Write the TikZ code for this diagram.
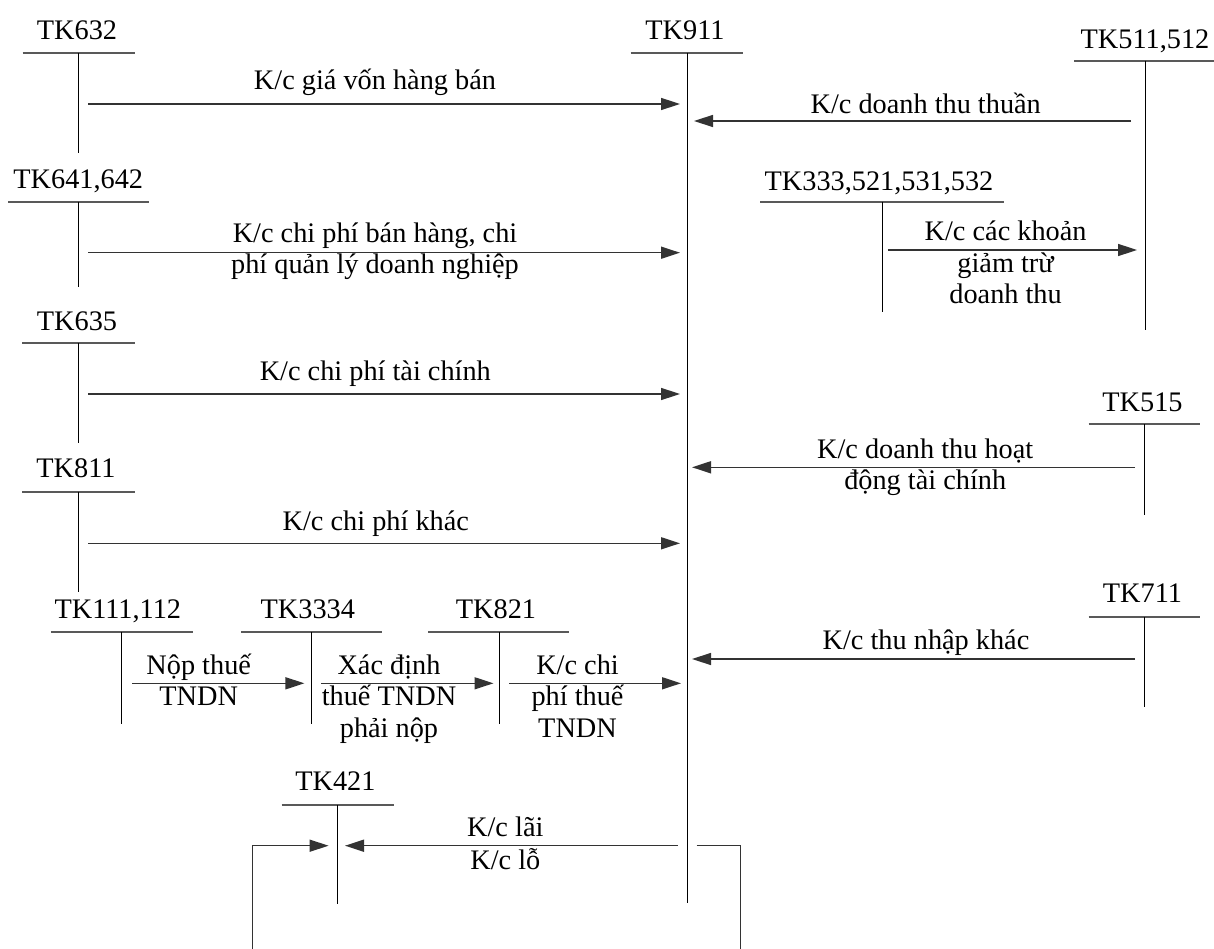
\documentclass[tikz,border=0pt]{standalone}
\usepackage{fontspec}
\setmainfont{Liberation Serif}
\usetikzlibrary{arrows.meta}
\begin{document}
\begin{tikzpicture}[x=1pt,y=-1pt,
  lbl/.style={anchor=base, inner sep=0pt, font=\fontsize{28.3}{31.5}\selectfont, align=center},
  tbar/.style={draw=black!65, line width=1.8pt},
  tstem/.style={draw=black, line width=1pt},
  flow/.style={draw=black!80, line width=1.5pt, -{Triangle[length=19pt,width=12pt]}},
  plain/.style={draw=black!80, line width=1.5pt},
]
\useasboundingbox (0,0) rectangle (1214,949);

% ---------- T accounts ----------
% TK632
\node[lbl] (a632) at (77,40) {TK632};
\coordinate (a632bl) at (22.7,52.7); \coordinate (a632br) at (135,52.7);
\coordinate (a632t) at (78.7,52.7); \coordinate (a632b) at (78.7,153);
\draw[tbar] (a632bl) -- (a632br); \draw[tstem] (a632t) -- (a632b);
% TK641,642
\node[lbl] (a641) at (78.3,189) {TK641,642};
\coordinate (a641bl) at (8,201.7); \coordinate (a641br) at (149,201.7);
\coordinate (a641t) at (78.7,201.7); \coordinate (a641b) at (78.7,287);
\draw[tbar] (a641bl) -- (a641br); \draw[tstem] (a641t) -- (a641b);
% TK635
\node[lbl] (a635) at (77,330) {TK635};
\coordinate (a635bl) at (22,342.7); \coordinate (a635br) at (134.5,342.7);
\coordinate (a635t) at (78.5,342.7); \coordinate (a635b) at (78.5,443);
\draw[tbar] (a635bl) -- (a635br); \draw[tstem] (a635t) -- (a635b);
% TK811
\node[lbl] (a811) at (76,477.3) {TK811};
\coordinate (a811bl) at (22,491.7); \coordinate (a811br) at (134.5,491.7);
\coordinate (a811t) at (78.5,491.7); \coordinate (a811b) at (78.5,591.7);
\draw[tbar] (a811bl) -- (a811br); \draw[tstem] (a811t) -- (a811b);
% TK911
\node[lbl] (a911) at (685,39.3) {TK911};
\coordinate (a911bl) at (630.5,52.7); \coordinate (a911br) at (742.6,52.7);
\coordinate (a911t) at (687,52.7); \coordinate (a911b) at (687,903.3);
\draw[tbar] (a911bl) -- (a911br); \draw[tstem] (a911t) -- (a911b);
% TK511,512
\node[lbl] (a511) at (1145,48.3) {TK511,512};
\coordinate (a511bl) at (1074,60.7); \coordinate (a511br) at (1214,60.7);
\coordinate (a511t) at (1145,60.7); \coordinate (a511b) at (1145,330);
\draw[tbar] (a511bl) -- (a511br); \draw[tstem] (a511t) -- (a511b);
% TK333,521,531,532
\node[lbl] (a333) at (879,190.7) {TK333,521,531,532};
\coordinate (a333bl) at (760,201.7); \coordinate (a333br) at (1003.8,201.7);
\coordinate (a333t) at (882,201.7); \coordinate (a333b) at (882,312);
\draw[tbar] (a333bl) -- (a333br); \draw[tstem] (a333t) -- (a333b);
% TK515
\node[lbl] (a515) at (1142.5,411.7) {TK515};
\coordinate (a515bl) at (1088.7,424.3); \coordinate (a515br) at (1200.4,424.3);
\coordinate (a515t) at (1144.2,424.3); \coordinate (a515b) at (1144.2,515);
\draw[tbar] (a515bl) -- (a515br); \draw[tstem] (a515t) -- (a515b);
% TK711
\node[lbl] (a711) at (1142.5,602.7) {TK711};
\coordinate (a711bl) at (1088.7,617.3); \coordinate (a711br) at (1200.4,617.3);
\coordinate (a711t) at (1144.2,617.3); \coordinate (a711b) at (1144.2,706.7);
\draw[tbar] (a711bl) -- (a711br); \draw[tstem] (a711t) -- (a711b);
% TK111,112
\node[lbl] (a111) at (117.8,618.3) {TK111,112};
\coordinate (a111bl) at (50.9,632.3); \coordinate (a111br) at (192.9,632.3);
\coordinate (a111t) at (121.2,632.3); \coordinate (a111b) at (121.2,724);
\draw[tbar] (a111bl) -- (a111br); \draw[tstem] (a111t) -- (a111b);
% TK3334
\node[lbl] (a3334) at (307.8,618.3) {TK3334};
\coordinate (a3334bl) at (241,632.3); \coordinate (a3334br) at (381.5,632.3);
\coordinate (a3334t) at (311.2,632.3); \coordinate (a3334b) at (311.2,724);
\draw[tbar] (a3334bl) -- (a3334br); \draw[tstem] (a3334t) -- (a3334b);
% TK821
\node[lbl] (a821) at (496,618.3) {TK821};
\coordinate (a821bl) at (428,632.3); \coordinate (a821br) at (569,632.3);
\coordinate (a821t) at (499.3,632.3); \coordinate (a821b) at (499.3,724);
\draw[tbar] (a821bl) -- (a821br); \draw[tstem] (a821t) -- (a821b);
% TK421
\node[lbl] (a421) at (335.4,790.7) {TK421};
\coordinate (a421bl) at (281.6,805); \coordinate (a421br) at (393.6,805);
\coordinate (a421t) at (337.4,805); \coordinate (a421b) at (337.4,904);
\draw[tbar] (a421bl) -- (a421br); \draw[tstem] (a421t) -- (a421b);

% ---------- flows ----------
\coordinate (f1s) at (88,104);   \coordinate (f1e) at (680,104);
\draw[flow] (f1s) -- (f1e);
\node[lbl] (l1) at (375,90) {K/c giá vốn hàng bán};

\coordinate (f2s) at (88,252.7); \coordinate (f2e) at (680,252.7);
\draw[flow] (f2s) -- (f2e);
\node[lbl] (l2) at (375,273.5) {K/c chi phí bán hàng, chi\\phí quản lý doanh nghiệp};

\coordinate (f3s) at (88,394);   \coordinate (f3e) at (680,394);
\draw[flow] (f3s) -- (f3e);
\node[lbl] (l3) at (375.3,380) {K/c chi phí tài chính};

\coordinate (f4s) at (88,543.3); \coordinate (f4e) at (680,543.3);
\draw[flow] (f4s) -- (f4e);
\node[lbl] (l4) at (375.8,530) {K/c chi phí khác};

\coordinate (f5s) at (1131,121); \coordinate (f5e) at (694,121);
\draw[flow] (f5s) -- (f5e);
\node[lbl] (l5) at (925.7,113.3) {K/c doanh thu thuần};

\coordinate (f6s) at (888,250);  \coordinate (f6e) at (1137,250);
\draw[flow] (f6s) -- (f6e);
\node[lbl] (l6) at (1005.6,304) {K/c các khoản\\giảm trừ\\doanh thu};

\coordinate (f7s) at (1135,467.3); \coordinate (f7e) at (692,467.3);
\draw[flow] (f7s) -- (f7e);
\node[lbl] (l7) at (925.2,489.8) {K/c doanh thu hoạt\\động tài chính};

\coordinate (f8s) at (1135,659); \coordinate (f8e) at (692,659);
\draw[flow] (f8s) -- (f8e);
\node[lbl] (l8) at (926,649.3) {K/c thu nhập khác};

\coordinate (f9s) at (132.3,683.3); \coordinate (f9e) at (304.4,683.3);
\draw[flow] (f9s) -- (f9e);
\node[lbl] (l9) at (198.7,705.8) {Nộp thuế\\TNDN};

\coordinate (f10s) at (321.4,683.3); \coordinate (f10e) at (493.5,683.3);
\draw[flow] (f10s) -- (f10e);
\node[lbl] (l10) at (389,737.3) {Xác định\\thuế TNDN\\phải nộp};

\coordinate (f11s) at (509,683.3); \coordinate (f11e) at (681,683.3);
\draw[flow] (f11s) -- (f11e);
\node[lbl] (l11) at (577.5,737.3) {K/c chi\\phí thuế\\TNDN};

\coordinate (f12s) at (677.7,845.7); \coordinate (f12e) at (345,845.7);
\draw[flow] (f12s) -- (f12e);
\node[lbl] (l12) at (505.3,869.7) {K/c lãi\\[1.5pt]K/c lỗ};

\coordinate (f13a) at (696.6,845.7); \coordinate (f13b) at (740.7,845.7);
\coordinate (f13c) at (740.7,949);
\draw[plain] (f13a) -- (f13b) -- (f13c);
\coordinate (f14a) at (252.5,949); \coordinate (f14b) at (252.5,845.7);
\coordinate (f14e) at (328.6,845.7);
\draw[flow] (f14a) -- (f14b) -- (f14e);
\end{tikzpicture}
\end{document}
